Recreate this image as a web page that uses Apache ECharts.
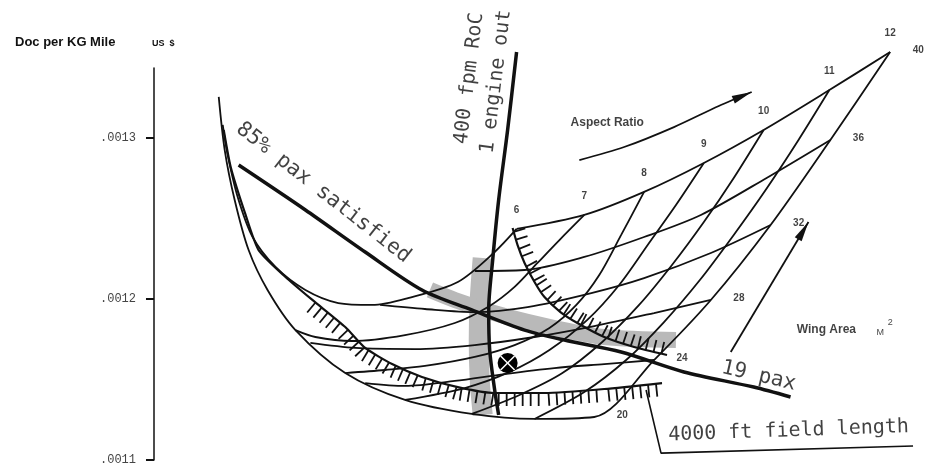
<!DOCTYPE html>
<html>
<head>
<meta charset="utf-8">
<script src="https://cdn.jsdelivr.net/npm/echarts@6/dist/echarts.min.js"></script>
<style>
  html, body { margin: 0; padding: 0; background: #fff; }
  #main { width: 926px; height: 470px; }
</style>
</head>
<body>
<div id="main"></div>
<script>
// carpet plot, DOC per kg mile against aspect ratio and wing area
// x is only the carpet offset (not shown), y is DOC in units of 1e-4 US $

var aspectRatios = [6, 7, 8, 9, 10, 11, 12];
var wingAreas = [40, 36, 32, 28, 24, 20];

// lines of constant aspect ratio, first point sits on the 40 m2 edge
var ar6 = [[364,12.435],[342,12.292],[305,12.106],[255,12.006],[219,11.963],[185,11.975],[152,12.056],[122,12.199],[99,12.385],[84,12.634],[74,12.894],[69,13.081]];
var ar7 = [[432,12.522],[407,12.366],[385,12.224],[362,12.075],[337,11.957],[302,11.851],[252,11.776],[199,11.739],[162,11.764],[142,11.807]];
var ar8 = [[492,12.665],[469,12.398],[447,12.149],[424,11.963],[397,11.820],[362,11.714],[322,11.640],[272,11.584],[232,11.559],[192,11.540]];
var ar9 = [[552,12.845],[524,12.584],[497,12.348],[467,12.087],[435,11.870],[397,11.683],[357,11.547],[312,11.447],[252,11.373]];
var ar10 = [[612,13.050],[582,12.752],[552,12.478],[520,12.211],[487,11.963],[450,11.733],[410,11.540],[367,11.404],[319,11.286]];
var ar11 = [[678,13.298],[647,12.988],[614,12.677],[582,12.398],[548,12.118],[512,11.857],[474,11.621],[432,11.422],[382,11.255]];
// AR 12: first six points are the wing area nodes 40..20
var ar12 = [[739,13.534],[679,12.988],[619,12.460],[559,11.994],[502,11.621],[442,11.267],[382,11.255],[319,11.286],[252,11.373],[192,11.540],[142,11.807],[114,12.056],[95,12.304],[81,12.615],[71,12.925],[65,13.255]];

// lines of constant wing area (40 is the top edge through the AR nodes)
var area36 = [[679,12.988],[615,12.752],[549,12.522],[492,12.385],[432,12.261],[372,12.180],[322,12.174]];
var area32 = [[619,12.460],[559,12.286],[492,12.130],[439,12.037],[375,11.950],[322,11.919],[272,11.938],[227,11.963]];
var area28 = [[559,11.994],[502,11.913],[442,11.832],[382,11.764],[322,11.714],[262,11.689],[202,11.696],[157,11.727]];
var area24 = [[502,11.621],[452,11.596],[402,11.571],[352,11.534],[302,11.491],[252,11.460],[212,11.478]];

// constraints
var paxSatisfied = [[85,12.832],[152,12.553],[212,12.292],[269,12.056],[319,11.932],[372,11.807],[412,11.745],[469,11.671],[532,11.547],[602,11.453],[639,11.391]];
var climbOneEngine = [[364,13.534],[355,13.050],[346,12.615],[340,12.242],[336,11.932],[337,11.683],[342,11.435],[346,11.280]];
var fieldLength = [[70,13.050],[77,12.820],[92,12.522],[105,12.304],[132,12.137],[159,11.994],[192,11.826],[212,11.696],[239,11.596],[269,11.516],[305,11.453],[342,11.416],[392,11.416],[452,11.441],[510,11.478]];
var paxBoundary = [[360,12.441],[365,12.335],[372,12.224],[382,12.106],[392,12.012],[408,11.919],[425,11.851],[452,11.764],[482,11.702],[515,11.652]];
var bandClimb = [[330,12.255],[327,11.994],[326,11.745],[327,11.497],[330,11.280]];
var bandPax = [[277,12.056],[302,11.994],[352,11.894],[402,11.820],[452,11.764],[524,11.745]];
var designPoint = [[355,11.602]];

// arrows and leader
var arArrow = [[427,12.863],[472,12.944],[522,13.068],[567,13.199],[600,13.286]];
var areaArrow = [[579,11.671],[657,12.478]];
var fieldLeader = [[494,11.435],[509,11.043],[762,11.087]];

var arLines = [ar6, ar7, ar8, ar9, ar10, ar11, ar12];
var area40 = arLines.map(function (l) { return l[0]; });
var areaNodes = ar12.slice(0, wingAreas.length);

var mono = 'DejaVu Sans Mono';

function line(data, width, smooth) {
  return {
    type: 'line', data: data, symbol: 'none', smooth: smooth, clip: false, silent: true,
    lineStyle: { color: '#111', width: width }, z: 3
  };
}

function band(data, width) {
  return {
    type: 'line', data: data, symbol: 'none', smooth: 0.3, clip: false, silent: true,
    lineStyle: { color: '#b9b9b9', width: width, cap: 'butt' }, z: 1
  };
}

// short ticks along one side of a curve
function hatch(points, from, side, len, gap) {
  return {
    type: 'custom', clip: false, silent: true, z: 3,
    data: points.slice(0, -1).map(function (p, i) { return [p[0], p[1], i]; }),
    renderItem: function (params, api) {
      var i = api.value(2);
      if (i < from) return;
      var a = api.coord(points[i]), b = api.coord(points[i + 1]);
      var dx = b[0] - a[0], dy = b[1] - a[1], L = Math.sqrt(dx * dx + dy * dy);
      var ux = dx / L, uy = dy / L;
      var nx = side * uy, ny = -side * ux;
      var kids = [];
      for (var t = gap / 2; t < L; t += gap) {
        var x = a[0] + ux * t, y = a[1] + uy * t;
        kids.push({ type: 'line', shape: { x1: x, y1: y, x2: x + nx * len, y2: y + ny * len },
          style: { stroke: '#111', lineWidth: 1.8 } });
      }
      return { type: 'group', children: kids };
    }
  };
}

function arrowHead(shaft) {
  var n = shaft.length;
  return {
    type: 'custom', clip: false, silent: true, z: 4,
    data: [shaft[n - 1]],
    renderItem: function (params, api) {
      var tip = api.coord(shaft[n - 1]), prev = api.coord(shaft[n - 2]);
      var ang = Math.atan2(tip[1] - prev[1], tip[0] - prev[0]);
      var bx = tip[0] - 20 * Math.cos(ang), by = tip[1] - 20 * Math.sin(ang);
      var px = -Math.sin(ang) * 4, py = Math.cos(ang) * 4;
      return { type: 'polygon', shape: { points: [tip, [bx + px, by + py], [bx - px, by - py]] },
        style: { fill: '#111' } };
    }
  };
}

function note(x, y, text, rotate, size, family, weight, lineHeight) {
  return {
    value: [x, y],
    label: { show: true, position: 'inside', formatter: text, rotate: rotate,
      fontSize: size, fontFamily: family, fontWeight: weight || 'normal',
      lineHeight: lineHeight, color: '#111', align: 'center', verticalAlign: 'middle' }
  };
}

var chart = echarts.init(document.getElementById('main'));

var series = [
  band(bandClimb, 20),
  band(bandPax, 16)
];
arLines.forEach(function (l) { series.push(line(l, 1.8, 0.3)); });
series.push(line(area40, 1.8, 0.3));
[area36, area32, area28, area24].forEach(function (l) { series.push(line(l, 1.8, 0.3)); });
series.push(line(paxSatisfied, 3.5, 0.3));
series.push(line(climbOneEngine, 3.5, 0.3));
series.push(line(fieldLength, 2.2, 0.2));
series.push(line(paxBoundary, 2.2, 0.2));
series.push(hatch(paxBoundary, 0, 1, 12, 8));
series.push(hatch(fieldLength, 5, -1, 13, 8));
series.push(line(arArrow, 1.8, 0.3));
series.push(line(areaArrow, 1.8, false));
series.push(arrowHead(arArrow));
series.push(arrowHead(areaArrow));
series.push(line(fieldLeader, 1.6, false));

// design point
series.push({
  type: 'custom', clip: false, silent: true, z: 5, data: designPoint,
  renderItem: function (params, api) {
    var c = api.coord([api.value(0), api.value(1)]);
    return { type: 'group', children: [
      { type: 'circle', shape: { cx: c[0], cy: c[1], r: 10 }, style: { fill: '#000' } },
      { type: 'line', shape: { x1: c[0] - 7, y1: c[1] - 7, x2: c[0] + 7, y2: c[1] + 7 }, style: { stroke: '#fff', lineWidth: 1.5 } },
      { type: 'line', shape: { x1: c[0] - 7, y1: c[1] + 7, x2: c[0] + 7, y2: c[1] - 7 }, style: { stroke: '#fff', lineWidth: 1.5 } }
    ] };
  }
});

// aspect ratio and wing area numbers
series.push({
  type: 'scatter', clip: false, silent: true, symbolSize: 1, itemStyle: { color: 'rgba(0,0,0,0)' },
  data: area40,
  label: { show: true, position: 'top', distance: 13, fontSize: 10, fontWeight: 'bold',
    fontFamily: 'Liberation Sans', color: '#111',
    formatter: function (p) { return aspectRatios[p.dataIndex]; } }
});
series.push({
  type: 'scatter', clip: false, silent: true, symbolSize: 1, itemStyle: { color: 'rgba(0,0,0,0)' },
  data: areaNodes,
  label: { show: true, position: 'right', distance: 22, offset: [0, -2], fontSize: 10, fontWeight: 'bold',
    fontFamily: 'Liberation Sans', color: '#111',
    formatter: function (p) { return wingAreas[p.dataIndex]; } }
});

// text notes
series.push({
  type: 'scatter', clip: false, silent: true, symbolSize: 1, itemStyle: { color: 'rgba(0,0,0,0)' },
  data: [
    note(170, 12.660, '85% pax satisfied', -38, 21, mono),
    note(330, 13.360, '400 fpm RoC\n1 engine out', 83, 20, mono, 'normal', 27),
    note(607, 11.522, '19 pax', -13, 21, mono),
    note(637, 11.180, '4000 ft field length', 2, 20, mono),
    note(455, 13.093, 'Aspect Ratio', 0, 12, 'Liberation Sans', 'bold'),
    note(675, 11.807, 'Wing Area', 0, 12, 'Liberation Sans', 'bold'),
    note(729, 11.789, 'M', 0, 9, 'Liberation Sans'),
    note(739, 11.851, '2', 0, 9, 'Liberation Sans')
  ]
});

chart.setOption({
  animation: false,
  backgroundColor: '#fff',
  title: [
    { text: 'Doc per KG Mile', left: 10, top: 31,
      textStyle: { fontFamily: 'Liberation Sans', fontWeight: 'bold', fontSize: 13, color: '#111' } },
    { text: 'US  $', left: 147, top: 34,
      textStyle: { fontFamily: 'Liberation Sans', fontWeight: 'bold', fontSize: 9, color: '#111' } }
  ],
  grid: { left: 151, right: 0, top: 68, bottom: 10 },
  xAxis: { type: 'value', min: -3, max: 775, show: false },
  yAxis: {
    type: 'value', min: 11, max: 13.4348,
    axisLine: { show: true, lineStyle: { color: '#111', width: 1.5 } },
    axisTick: { show: true, length: 8, customValues: [11, 12, 13], lineStyle: { color: '#111', width: 2 } },
    splitLine: { show: false },
    axisLabel: { customValues: [11, 12, 13], margin: 15, fontFamily: 'Liberation Mono', fontSize: 12, color: '#444',
      formatter: function (v) { return '.00' + v; } }
  },
  series: series
});
</script>
</body>
</html>
